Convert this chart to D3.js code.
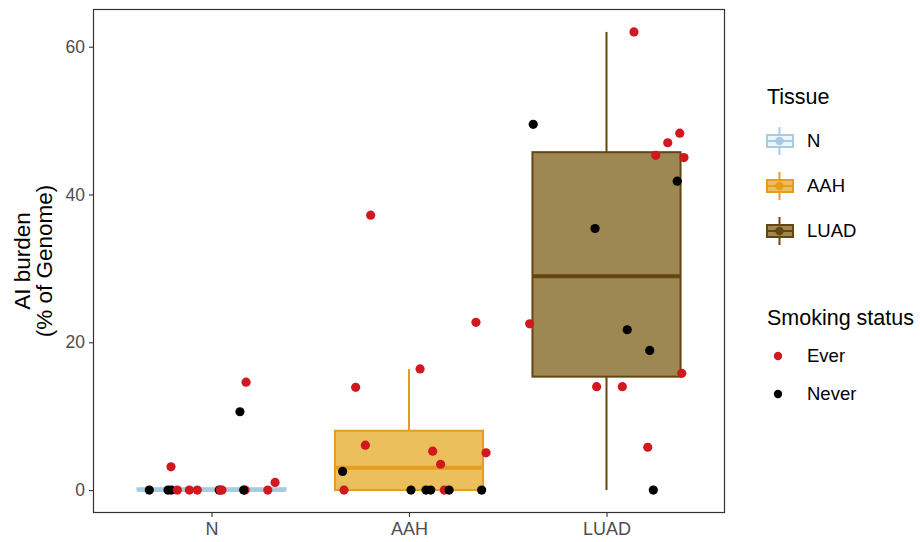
<!DOCTYPE html>
<html>
<head>
<meta charset="utf-8">
<script src="https://cdn.jsdelivr.net/npm/d3@7"></script>
<style>
  body { margin: 0; background: #fff; }
  text { font-family: "Liberation Sans", Arial, sans-serif; }
</style>
</head>
<body>
<div id="chart-area"></div>
<script>
// tissue groups and y ticks
var categories = ['N', 'AAH', 'LUAD'];
var yTicks = [0, 20, 40, 60];
var smokingLevels = ['Ever', 'Never'];

// AI burden (% of genome) per sample, its horizontal jitter (category units) and smoking status
var nValues  = [14.6, 10.6, 3.15, 1.04, 0, 0, 0, 0, 0, 0, 0, 0, 0, 0, 0, 0];
var nJitter  = [0.175, 0.144, -0.205, 0.322, -0.315, -0.22, -0.203, -0.173, -0.112, -0.072, 0.053, 0.039, 0.17, 0.163, 0.285, 0.045];
var nSmoking = ['Ever', 'Never', 'Ever', 'Ever', 'Never', 'Never', 'Never', 'Ever', 'Ever', 'Ever', 'Ever', 'Never', 'Ever', 'Never', 'Ever', 'Ever'];

var aahValues  = [16.4, 13.9, 37.2, 22.7, 6.08, 5.27, 3.5, 5.04, 2.52, 0, 0, 0, 0, 0, 0, 0];
var aahJitter  = [0.056, -0.27, -0.194, 0.339, -0.221, 0.12, 0.16, 0.39, -0.336, -0.329, 0.01, 0.086, 0.11, 0.179, 0.203, 0.368];
var aahSmoking = ['Ever', 'Ever', 'Ever', 'Ever', 'Ever', 'Ever', 'Ever', 'Ever', 'Never', 'Ever', 'Never', 'Never', 'Never', 'Ever', 'Never', 'Never'];

var luadValues  = [62.0, 49.5, 48.3, 47.0, 45.3, 45.0, 41.8, 35.4, 22.5, 21.7, 18.9, 15.8, 14.0, 14.0, 5.8, 0];
var luadJitter  = [0.139, -0.371, 0.371, 0.31, 0.249, 0.392, 0.358, -0.058, -0.389, 0.105, 0.219, 0.381, -0.05, 0.08, 0.209, 0.237];
var luadSmoking = ['Ever', 'Never', 'Ever', 'Ever', 'Ever', 'Ever', 'Never', 'Never', 'Ever', 'Never', 'Never', 'Ever', 'Ever', 'Ever', 'Ever', 'Never'];

var groupValues  = [nValues, aahValues, luadValues];
var groupJitter  = [nJitter, aahJitter, luadJitter];
var groupSmoking = [nSmoking, aahSmoking, luadSmoking];

// styles
var boxStroke = ['#a9cbe2', '#e59d1e', '#654610'];
var boxFill   = ['#eef5fa', '#ebbf5c', '#9d8853'];
var dotColors = { Ever: '#d0181e', Never: '#000000' };
var axisGrey = '#4d4d4d';

var margin = { left: 93, right: 195, top: 9, bottom: 29 };
var width = 920 - margin.left - margin.right,
    height = 542 - margin.top - margin.bottom;

var svg = d3.select('#chart-area')
    .append('svg')
        .attr('width', 920)
        .attr('height', 542);

var g = svg.append('g')
    .attr('transform', 'translate(' + margin.left + ',' + margin.top + ')');

// scales (ggplot style expansion: 0.6 units on discrete x, 5% on y)
var allValues = d3.merge(groupValues);
var ext = d3.extent(allValues);
var pad = (ext[1] - ext[0]) * 0.05;
var xScale = d3.scaleLinear().domain([0.4, categories.length + 0.6]).range([0, width]);
var yScale = d3.scaleLinear().domain([ext[0] - pad, ext[1] + pad]).range([height, 0]);
var unit = xScale(2) - xScale(1);
var boxW = 0.75 * unit;

// axes
var xAxis = d3.axisBottom(xScale).tickValues([1, 2, 3]).tickFormat(function(d) { return categories[d - 1]; }).tickSizeOuter(0).tickSize(4).tickPadding(5);
var yAxis = d3.axisLeft(yScale).tickValues(yTicks).tickSizeOuter(0).tickSize(4).tickPadding(4);

var xAxisGroup = g.append('g').attr('class', 'x axis').attr('transform', 'translate(0,' + height + ')').call(xAxis);
var yAxisGroup = g.append('g').attr('class', 'y axis').call(yAxis);

[xAxisGroup, yAxisGroup].forEach(function(ax) {
    ax.select('.domain').remove();
    ax.selectAll('line').attr('stroke', '#333').attr('stroke-width', 1.1);
    ax.selectAll('text').attr('fill', axisGrey).style('font-size', '17.5px');
});
xAxisGroup.selectAll('text').style('font-size', '18px');

// box plots
function boxStats(vals) {
    var s = vals.slice().sort(d3.ascending);
    var q1 = d3.quantile(s, 0.25), med = d3.quantile(s, 0.5), q3 = d3.quantile(s, 0.75);
    var iqr = q3 - q1;
    var lo = d3.min(s.filter(function(v) { return v >= q1 - 1.5 * iqr; }));
    var hi = d3.max(s.filter(function(v) { return v <= q3 + 1.5 * iqr; }));
    return { q1: q1, med: med, q3: q3, lo: lo, hi: hi };
}

var boxes = g.append('g').attr('class', 'boxes');
groupValues.forEach(function(vals, i) {
    var st = boxStats(vals);
    var cx = xScale(i + 1);
    var bg = boxes.append('g');
    bg.append('line')
        .attr('x1', cx).attr('x2', cx)
        .attr('y1', yScale(st.q3)).attr('y2', yScale(st.hi))
        .attr('stroke', boxStroke[i]).attr('stroke-width', 2);
    bg.append('line')
        .attr('x1', cx).attr('x2', cx)
        .attr('y1', yScale(st.q1)).attr('y2', yScale(st.lo))
        .attr('stroke', boxStroke[i]).attr('stroke-width', 2);
    bg.append('rect')
        .attr('x', cx - boxW / 2)
        .attr('y', yScale(st.q3))
        .attr('width', boxW)
        .attr('height', Math.max(0, yScale(st.q1) - yScale(st.q3)))
        .attr('fill', boxFill[i])
        .attr('stroke', boxStroke[i])
        .attr('stroke-width', 2);
    bg.append('line')
        .attr('x1', cx - boxW / 2).attr('x2', cx + boxW / 2)
        .attr('y1', yScale(st.med)).attr('y2', yScale(st.med))
        .attr('stroke', boxStroke[i]).attr('stroke-width', 4);
});

// jittered points
var points = [];
groupValues.forEach(function(vals, i) {
    vals.forEach(function(v, j) {
        points.push({ pos: i + 1 + groupJitter[i][j], value: v, smoking: groupSmoking[i][j] });
    });
});

g.append('g').attr('class', 'points')
    .selectAll('circle')
    .data(points)
    .enter()
    .append('circle')
        .attr('cx', function(d) { return xScale(d.pos); })
        .attr('cy', function(d) { return yScale(d.value); })
        .attr('r', 4.6)
        .attr('fill', function(d) { return dotColors[d.smoking]; });

// panel border
g.append('rect')
    .attr('x', 0.5).attr('y', 0.5)
    .attr('width', width - 1).attr('height', height - 1)
    .attr('fill', 'none')
    .attr('stroke', '#333')
    .attr('stroke-width', 1.2);

// y axis title
var yTitle = svg.append('text')
    .attr('transform', 'translate(30,' + (margin.top + height / 2) + ') rotate(-90)')
    .attr('text-anchor', 'middle')
    .attr('fill', '#000')
    .style('font-size', '22.5px');
yTitle.append('tspan').attr('x', 0).attr('dy', '0em').text('AI burden');
yTitle.append('tspan').attr('x', 0).attr('dy', '0.97em').text('(% of Genome)');

// legends
var legend = svg.append('g').attr('transform', 'translate(767,0)');

legend.append('text').attr('x', 0).attr('y', 104).style('font-size', '21.5px').attr('fill', '#000').text('Tissue');

categories.forEach(function(cat, i) {
    var row = legend.append('g').attr('transform', 'translate(0,' + (141 + i * 45) + ')');
    row.append('line').attr('x1', 12.5).attr('x2', 12.5).attr('y1', -14).attr('y2', 14)
        .attr('stroke', boxStroke[i]).attr('stroke-width', 2);
    row.append('rect').attr('x', 0).attr('y', -6).attr('width', 26).attr('height', 12)
        .attr('fill', boxFill[i]).attr('stroke', boxStroke[i]).attr('stroke-width', 2);
    row.append('line').attr('x1', 0).attr('x2', 26).attr('y1', 0).attr('y2', 0)
        .attr('stroke', boxStroke[i]).attr('stroke-width', 2);
    row.append('circle').attr('cx', 12.5).attr('cy', 0).attr('r', 4.2).attr('fill', boxStroke[i]);
    row.append('text').attr('x', 40).attr('y', 0).attr('dy', '0.35em')
        .style('font-size', '18.5px').attr('fill', '#000').text(cat);
});

legend.append('text').attr('x', 0).attr('y', 325).style('font-size', '21.5px').attr('fill', '#000').text('Smoking status');

smokingLevels.forEach(function(lv, i) {
    var row = legend.append('g').attr('transform', 'translate(0,' + (356 + i * 38) + ')');
    row.append('circle').attr('cx', 11).attr('cy', 0).attr('r', 4.2).attr('fill', dotColors[lv]);
    row.append('text').attr('x', 40).attr('y', 0).attr('dy', '0.35em')
        .style('font-size', '18.5px').attr('fill', '#000').text(lv);
});
</script>
</body>
</html>
